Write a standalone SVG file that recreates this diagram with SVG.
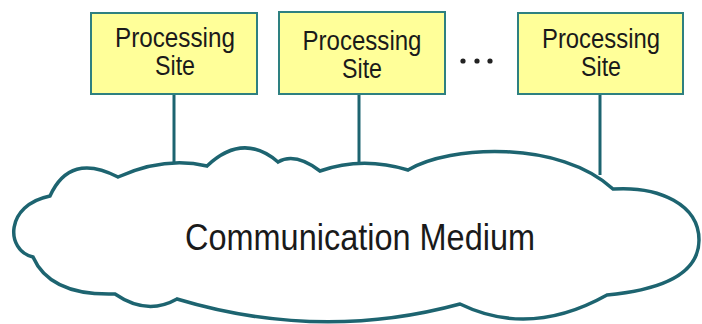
<svg xmlns="http://www.w3.org/2000/svg" width="702" height="324" viewBox="0 0 702 324">
  <style>
    .site rect { fill: #ffff99; stroke: #2e8080; stroke-width: 2; }
    .site text, .label { font-family: "Liberation Sans", Arial, sans-serif; fill: #1a1a1a; text-anchor: middle; }
    .site text { font-size: 27px; }
    .label { font-size: 36px; }
    .link { stroke: #1d6470; stroke-width: 3; fill: none; }
    .cloud { fill: #ffffff; stroke: #1d6470; stroke-width: 3.5; stroke-linejoin: miter; }
    .dot { fill: #222222; }
  </style>

  <!-- connectors from each site down to the medium -->
  <g id="connectors">
    <line class="link" x1="174" y1="94" x2="174" y2="164"/>
    <line class="link" x1="359" y1="94" x2="359" y2="164"/>
    <line class="link" x1="600" y1="94" x2="600" y2="175"/>
  </g>

  <!-- shared communication medium -->
  <g id="medium">
    <path class="cloud" d="M 118,177
      Q 165,156 207,166
      Q 243,132 278,162
      Q 295,152 320,171
      Q 362,156 408,170
      C 450,145 560,140 613,189
      C 660,186 699,205 699,240
      C 699,275 660,290 607,295
      Q 530,338 460,304
      Q 320,342 177,299
      Q 147,316 115,294
      Q 50,296 33,257
      C 5,250 5,205 50,196
      Q 70,152 118,177 Z"/>
    <text class="label" x="360" y="250" textLength="350" lengthAdjust="spacingAndGlyphs">Communication Medium</text>
  </g>

  <g id="site1" class="site">
    <rect x="91" y="13" width="166" height="81"/>
    <text x="175" y="47" textLength="120" lengthAdjust="spacingAndGlyphs">Processing</text>
    <text x="175" y="75" textLength="40" lengthAdjust="spacingAndGlyphs">Site</text>
  </g>

  <g id="site2" class="site">
    <rect x="279" y="12" width="166" height="82"/>
    <text x="362" y="50" textLength="119" lengthAdjust="spacingAndGlyphs">Processing</text>
    <text x="362" y="78" textLength="40" lengthAdjust="spacingAndGlyphs">Site</text>
  </g>

  <!-- ellipsis between sites -->
  <g id="ellipsis">
    <circle class="dot" cx="463" cy="61" r="2.6"/>
    <circle class="dot" cx="477" cy="61" r="2.6"/>
    <circle class="dot" cx="490" cy="61" r="2.6"/>
  </g>

  <g id="site3" class="site">
    <rect x="518" y="13" width="165" height="81"/>
    <text x="601" y="48" textLength="118" lengthAdjust="spacingAndGlyphs">Processing</text>
    <text x="601" y="76" textLength="40" lengthAdjust="spacingAndGlyphs">Site</text>
  </g>
</svg>
